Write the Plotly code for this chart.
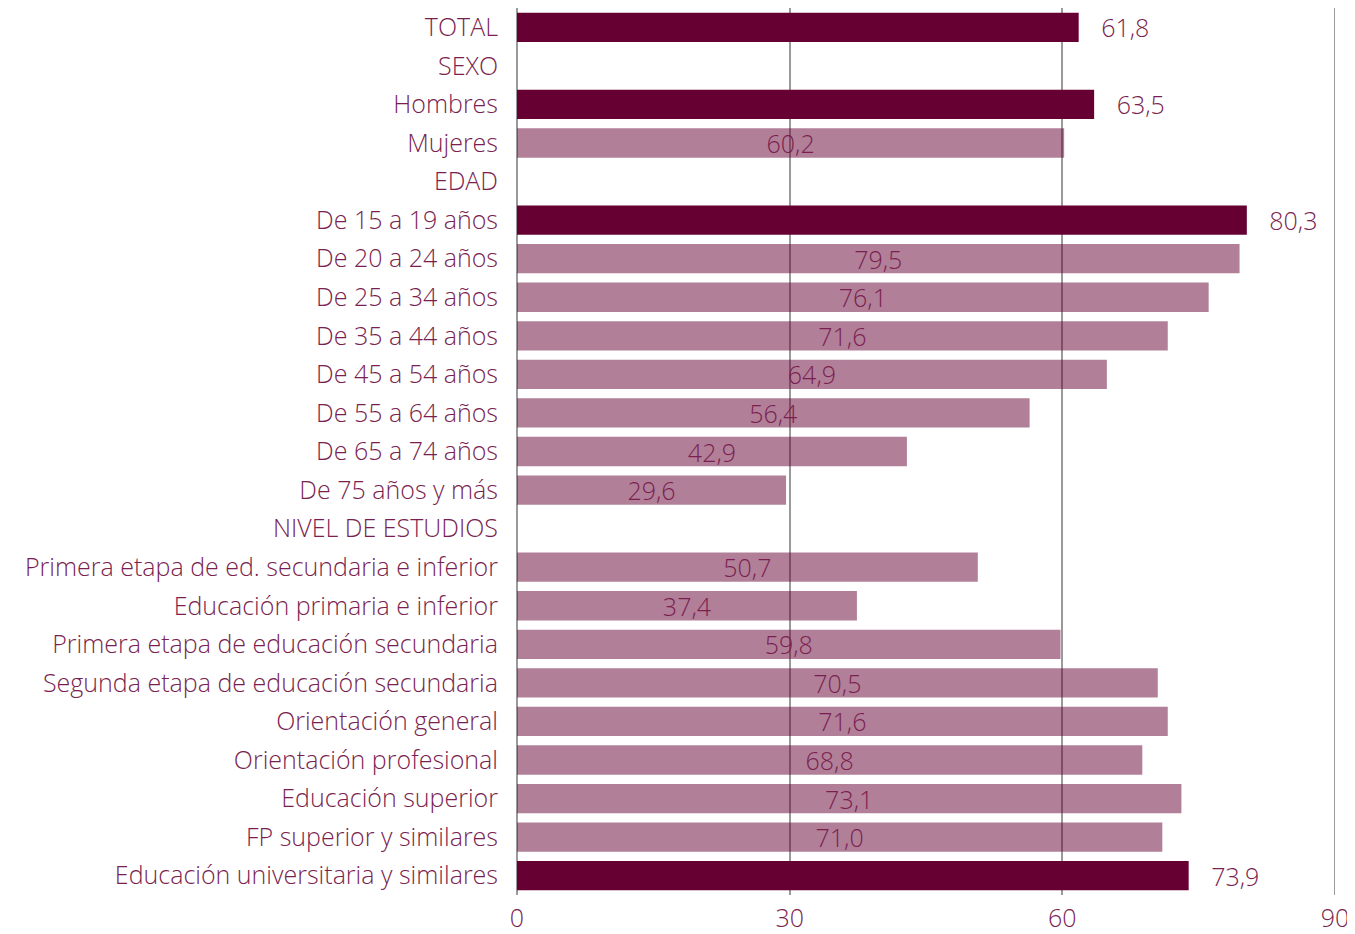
import plotly.graph_objects as go

categories = ["TOTAL", "SEXO", "Hombres", "Mujeres", "EDAD",
              "De 15 a 19 años", "De 20 a 24 años", "De 25 a 34 años", "De 35 a 44 años",
              "De 45 a 54 años", "De 55 a 64 años", "De 65 a 74 años", "De 75 años y más",
              "NIVEL DE ESTUDIOS",
              "Primera etapa de ed. secundaria e inferior", "Educación primaria e inferior",
              "Primera etapa de educación secundaria", "Segunda etapa de educación secundaria",
              "Orientación general", "Orientación profesional", "Educación superior",
              "FP superior y similares", "Educación universitaria y similares"]
values = [61.8, None, 63.5, 60.2, None,
          80.3, 79.5, 76.1, 71.6, 64.9, 56.4, 42.9, 29.6,
          None,
          50.7, 37.4, 59.8, 70.5, 71.6, 68.8, 73.1, 71.0, 73.9]
highlight = ["TOTAL", "Hombres", "De 15 a 19 años", "Educación universitaria y similares"]
x_ticks = [0, 30, 60, 90]

DARK = "#660033"
LIGHT = "rgba(102,0,51,0.5)"
TEXT = "#7a1f50"
GRID = "#9a9a9a"
FONT = "Open Sans"
FS = 25
W = 300

dark_vals = [v if c in highlight else None for c, v in zip(categories, values)]
light_vals = [v if (c not in highlight) else None for c, v in zip(categories, values)]

fig = go.Figure()
fig.add_trace(go.Bar(
    y=categories, x=light_vals, orientation="h", width=0.76,
    marker=dict(color=LIGHT, line=dict(width=0)),
    texttemplate="%{x:.1f}", textposition="inside", insidetextanchor="middle",
    insidetextfont=dict(color=TEXT, size=FS, family=FONT, weight=W),
    constraintext="none", cliponaxis=False, showlegend=False,
))
fig.add_trace(go.Bar(
    y=categories, x=dark_vals, orientation="h", width=0.76,
    marker=dict(color=DARK, line=dict(width=0)),
    texttemplate="   %{x:.1f}", textposition="outside",
    outsidetextfont=dict(color=TEXT, size=FS, family=FONT, weight=W),
    constraintext="none", cliponaxis=False, showlegend=False,
))

# grid line at the right edge of the axis range (plotly omits it)
fig.add_shape(type="line", xref="x", yref="paper", x0=x_ticks[-1], x1=x_ticks[-1],
              y0=0, y1=1, layer="below", line=dict(color=GRID, width=2))

fig.update_layout(
    width=1343, height=926,
    margin=dict(l=509, r=16, t=0, b=39),
    paper_bgcolor="white", plot_bgcolor="white",
    barmode="overlay", separators=",.",
    font=dict(family=FONT, color=TEXT, size=FS, weight=W),
    xaxis=dict(range=[0, 90], tickvals=x_ticks, showgrid=True,
               gridcolor=GRID, gridwidth=2, zeroline=True, zerolinecolor=GRID,
               zerolinewidth=2, showline=False, ticks="", ticklabelstandoff=6,
               automargin=False, ticklabeloverflow="allow",
               tickfont=dict(size=FS, color=TEXT, family=FONT, weight=W)),
    yaxis=dict(autorange="reversed", categoryorder="array", categoryarray=categories,
               showgrid=False, showline=False, ticks="", ticklabelstandoff=18,
               automargin=False,
               tickfont=dict(size=FS, color=TEXT, family=FONT, weight=W)),
)

fig.write_html("out.html")
